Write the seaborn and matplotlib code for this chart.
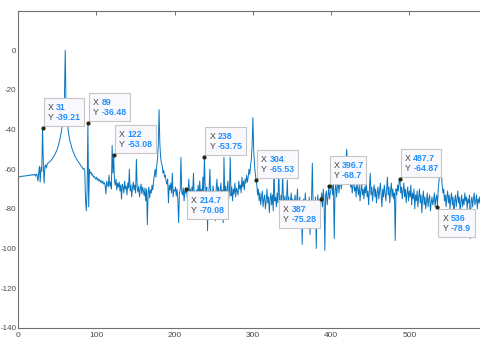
import numpy as np
import pandas as pd
import matplotlib
matplotlib.use("Agg")
import matplotlib.pyplot as plt
import seaborn as sns
from matplotlib.transforms import ScaledTranslation
from matplotlib.patches import Rectangle

# Power spectrum (dB), one value per 1 Hz bin
power_db = [
    -64.0, -63.8, -63.9, -63.6, -63.7, -63.5, -63.6, -63.4, -63.5, -63.3,   # 0
    -63.4, -63.2, -63.3, -63.0, -63.2, -62.9, -63.1, -62.8, -63.0, -62.7,   # 10
    -62.9, -62.6, -63.5, -62.5, -62.8, -66.0, -62.4, -58.5, -66.5, -59.0,   # 20
    -61.0, -39.21, -57.5, -67.0, -58.5, -57.8, -59.5, -57.2, -57.0, -56.6,  # 30
    -56.3, -55.8, -55.5, -55.0, -54.4, -53.8, -53.2, -52.4, -51.6, -50.7,   # 40
    -49.7, -48.5, -47.0, -45.3, -43.2, -41.0, -38.5, -35.5, -31.0, -24.0,   # 50
    0.0, -26.0, -33.5, -38.0, -41.0, -43.5, -45.5, -47.0, -48.5, -50.0,     # 60
    -51.0, -52.0, -53.0, -53.8, -54.5, -55.2, -55.8, -56.5, -57.0, -57.6,   # 70
    -58.2, -58.7, -59.2, -60.0, -59.5, -61.0, -76.0, -81.0, -70.0, -36.48,  # 80
    -79.0, -60.0, -62.0, -61.5, -63.0, -62.5, -64.0, -63.5, -64.5, -65.0,   # 90
    -64.0, -65.5, -64.8, -66.0, -65.2, -66.5, -65.8, -67.0, -66.0, -67.5,   # 100
    -66.8, -68.0, -72.5, -66.0, -67.5, -69.0, -63.0, -68.5, -66.5, -70.0,   # 110
    -48.0, -62.0, -53.08, -66.0, -68.0, -65.0, -70.5, -67.0, -69.0, -66.5,  # 120
    -71.0, -68.0, -75.0, -67.5, -69.0, -72.0, -66.0, -70.0, -68.5, -73.0,   # 130
    -67.0, -69.5, -60.0, -71.0, -68.0, -74.0, -69.5, -66.5, -70.5, -68.0,   # 140
    -72.0, -55.0, -69.0, -71.5, -68.5, -74.0, -70.0, -67.5, -72.5, -69.0,   # 150
    -71.0, -73.5, -69.5, -76.0, -70.0, -88.0, -72.0, -69.0, -74.5, -70.5,   # 160
    -72.0, -68.0, -70.5, -66.0, -63.0, -60.0, -64.0, -58.0, -55.0, -48.0,   # 170
    -30.0, -47.0, -54.0, -57.0, -58.0, -62.0, -60.5, -64.0, -63.0, -66.0,   # 180
    -67.5, -65.0, -77.0, -68.0, -70.5, -67.0, -72.0, -62.0, -74.0, -70.5,   # 190
    -71.0, -69.0, -73.5, -70.0, -75.0, -87.0, -72.0, -70.5, -54.0, -71.5,   # 200
    -73.0, -69.5, -76.0, -71.0, -72.0, -70.08, -74.0, -72.5, -65.0, -73.0,  # 210
    -70.0, -76.5, -69.0, -72.0, -62.0, -74.0, -71.0, -79.0, -70.5, -73.0,   # 220
    -68.0, -75.0, -66.0, -72.5, -70.0, -77.0, -64.0, -71.0, -53.75, -70.0,  # 230
    -74.0, -69.0, -91.0, -72.0, -70.0, -60.0, -73.5, -71.0, -76.0, -68.5,   # 240
    -72.0, -74.5, -86.0, -70.0, -65.0, -73.0, -69.0, -75.5, -71.0, -67.0,   # 250
    -73.0, -70.5, -87.0, -54.0, -72.0, -68.5, -74.0, -70.0, -66.0, -75.0,   # 260
    -71.0, -54.0, -73.5, -69.0, -76.0, -70.0, -72.5, -67.0, -74.0, -69.5,   # 270
    -71.0, -73.0, -66.0, -70.0, -68.0, -72.0, -64.0, -69.0, -66.0, -70.5,   # 280
    -65.0, -67.0, -63.0, -66.5, -64.0, -60.0, -62.5, -58.0, -55.0, -48.0,   # 290
    -34.0, -50.0, -58.0, -62.0, -65.53, -68.0, -73.0, -70.0, -76.0, -72.0,  # 300
    -78.0, -74.0, -71.0, -79.0, -75.0, -73.0, -80.0, -76.0, -70.0, -77.0,   # 310
    -74.0, -82.0, -75.0, -72.0, -78.0, -73.0, -81.0, -58.0, -76.0, -74.0,   # 320
    -79.0, -72.0, -77.0, -60.0, -75.0, -80.0, -73.0, -78.0, -62.0, -74.0,   # 330
    -77.0, -73.5, -80.0, -75.0, -65.5, -78.0, -74.0, -83.0, -76.0, -72.0,   # 340
    -79.0, -75.0, -88.0, -77.0, -73.0, -80.0, -76.0, -70.0, -82.0, -78.0,   # 350
    -74.0, -85.0, -77.0, -98.0, -79.0, -75.0, -81.0, -72.0, -78.0, -90.0,   # 360
    -76.0, -80.0, -74.0, -93.0, -78.0, -75.0, -57.0, -79.0, -76.0, -82.0,   # 370
    -74.0, -100.0, -78.0, -73.0, -80.0, -76.0, -84.0, -75.28, -72.0, -79.0, # 380
    -70.0, -76.0, -101.0, -73.0, -71.0, -78.0, -74.0, -68.7, -75.0, -72.0,  # 390
    -70.0, -66.0, -73.0, -68.0, -95.0, -71.0, -67.0, -74.0, -69.0, -65.0,   # 400
    -72.0, -68.0, -64.0, -70.0, -66.0, -62.0, -67.0, -63.0, -60.0, -55.0,   # 410
    -50.0, -58.0, -62.0, -66.0, -64.0, -69.0, -67.0, -72.0, -68.0, -65.0,   # 420
    -71.0, -69.0, -74.0, -66.0, -70.0, -73.0, -68.0, -76.0, -71.0, -67.0,   # 430
    -73.0, -70.0, -75.0, -69.0, -72.0, -66.0, -74.0, -71.0, -78.0, -70.0,   # 440
    -62.0, -73.0, -69.0, -76.0, -71.0, -68.0, -74.0, -70.0, -77.0, -72.0,   # 450
    -69.0, -75.0, -71.0, -67.0, -73.0, -79.0, -70.0, -74.0, -68.0, -72.0,   # 460
    -76.0, -70.0, -64.0, -73.0, -69.0, -77.0, -71.0, -67.0, -74.0, -70.0,   # 470
    -75.0, -72.0, -96.0, -70.0, -73.0, -68.0, -71.0, -66.0, -64.87, -72.0,  # 480
    -69.0, -75.0, -71.0, -67.0, -74.0, -70.0, -77.0, -72.0, -69.0, -76.0,   # 490
    -71.0, -74.0, -68.0, -78.0, -72.0, -75.0, -70.0, -80.0, -73.0, -76.0,   # 500
    -71.0, -79.0, -74.0, -70.0, -77.0, -73.0, -82.0, -75.0, -71.0, -78.0,   # 510
    -74.0, -80.0, -76.0, -72.0, -79.0, -75.0, -73.0, -81.0, -77.0, -74.0,   # 520
    -78.0, -76.0, -72.0, -79.0, -75.0, -73.0, -78.9, -70.0, -66.0, -60.0,   # 530
    -50.0, -62.0, -68.0, -72.0, -70.0, -76.0, -73.0, -79.0, -74.0, -71.0,   # 540
    -77.0, -73.0, -80.0, -75.0, -72.0, -78.0, -74.0, -85.0, -76.0, -73.0,   # 550
    -79.0, -75.0, -71.0, -77.0, -74.0, -82.0, -76.0, -73.0, -79.0, -75.0,   # 560
    -78.0, -72.0, -76.0, -74.0, -80.0, -75.0, -77.0, -73.0, -95.0, -76.0,   # 570
    -74.0, -79.0, -75.0, -72.0, -78.0, -76.0, -73.0, -80.0, -75.0, -77.0,   # 580
    -74.0, -78.0, -75.0, -76.0, -79.0, -74.0, -77.0, -75.0, -80.0, -76.0,   # 590
]
freq_hz = np.arange(len(power_db))  # 1 Hz frequency bins

# Data tips
tip_x = [31, 89, 122, 214.7, 238, 304, 387, 396.7, 487.7, 536]
tip_y = [-39.21, -36.48, -53.08, -70.08, -53.75, -65.53, -75.28, -68.7, -64.87, -78.9]
tip_x_text = ["31", "89", "122", "214.7", "238", "304", "387", "396.7", "487.7", "536"]
tip_y_text = ["-39.21", "-36.48", "-53.08", "-70.08", "-53.75", "-65.53", "-75.28", "-68.7", "-64.87", "-78.9"]
tip_side = ["ur", "ur", "ur", "dr", "ur", "ur", "dl", "ur", "ur", "dr"]

x_ticks = [0, 100, 200, 300, 400, 500]
y_ticks = [-140, -120, -100, -80, -60, -40, -20, 0]

sns.set_style("white")
plt.rcParams["font.family"] = ["Liberation Sans", "DejaVu Sans"]
plt.rcParams["axes.unicode_minus"] = False

W, H = 481, 341
fig = plt.figure(figsize=(W / 100, H / 100), dpi=100)
fig.patch.set_facecolor("white")
ax = fig.add_axes([18.3 / W, 13.3 / H, 469.2 / W, 317.0 / H])

df = pd.DataFrame({"freq": freq_hz, "db": power_db})
sns.lineplot(data=df, x="freq", y="db", ax=ax, color="#0b76c0", lw=0.7,
             estimator=None, sort=False)

ax.set_xlim(0, 600)
ax.set_ylim(-140, 20)
ax.set_xticks(x_ticks)
ax.set_yticks(y_ticks)
ax.set_xticklabels([str(t) for t in x_ticks])
ax.set_yticklabels([str(t) for t in y_ticks])
ax.set_xlabel("")
ax.set_ylabel("")

spine_c = "#707070"
for s in ax.spines.values():
    s.set_color(spine_c)
    s.set_linewidth(0.8)
ax.tick_params(axis="x", direction="in", length=3, width=0.7, color=spine_c,
               top=True, labeltop=False, labelsize=6.0, labelcolor="#4a4a4a", pad=3.0)
ax.tick_params(axis="y", direction="in", length=0, labelsize=5.8,
               labelcolor="#4a4a4a", pad=1.5)

px = 1 / 100.0
h = 28
fs = 6.3
for x, y, xt, yt, side in zip(tip_x, tip_y, tip_x_text, tip_y_text, tip_side):
    trans = fig.dpi_scale_trans + ScaledTranslation(x, y, ax.transData)
    w = 15 + 4.3 * max(len(xt), len(yt))
    if side == "ur":
        left, bottom = 1, 2
    elif side == "dr":
        left, bottom = 1, -2 - h
    else:
        left, bottom = -1 - w, -1 - h
    ax.add_patch(Rectangle((left * px, bottom * px), w * px, h * px, transform=trans,
                           facecolor="#f9f9fd", edgecolor="#c6c6c6", lw=0.8,
                           zorder=5, clip_on=False))
    for lab, val, yy in (("X", xt, bottom + 18.5), ("Y", yt, bottom + 8.5)):
        ax.text((left + 4) * px, yy * px, lab, transform=trans, ha="left", va="center",
                fontsize=fs, color="#404040", zorder=6)
        ax.text((left + 12.5) * px, yy * px, val, transform=trans, ha="left", va="center",
                fontsize=fs, color="#1f8fff", fontweight="bold", zorder=6)
    ax.plot([x], [y], "o", ms=2.0, mfc="#262610", mec="#262610", zorder=7)

fig.savefig("out.png", dpi=100, facecolor="white")
